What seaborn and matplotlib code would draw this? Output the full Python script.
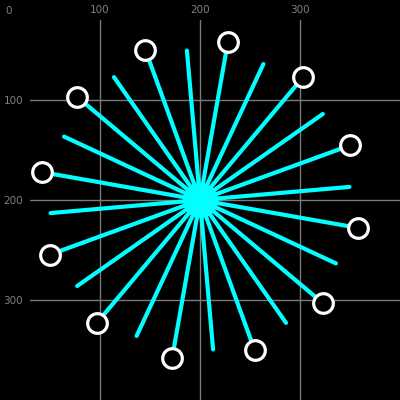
import numpy as np
import pandas as pd
import matplotlib
matplotlib.use('Agg')
import matplotlib.pyplot as plt
import seaborn as sns

# spokes: angle (deg, screen coords) and length
center_x, center_y = 200, 200
spoke_angles = [-95, -80, -65, -50, -35, -20, -5, 10, 25, 40, 55, 70,
                85, 100, 115, 130, 145, 160, 175, 190, 205, 220, 235, 250]
spoke_lengths = [150] * 24
has_ring = [False, True] * 12
ring_dist = 160

x_ticks = [100, 200, 300]
y_ticks = [100, 200, 300]
origin_label = '0'

rows = []
for i, (a, r) in enumerate(zip(spoke_angles, spoke_lengths)):
    t = np.deg2rad(a)
    rows.append({'spoke': i, 'x': center_x, 'y': center_y})
    rows.append({'spoke': i, 'x': center_x + r * np.cos(t), 'y': center_y + r * np.sin(t)})
df = pd.DataFrame(rows)

rings = pd.DataFrame({
    'x': [center_x + ring_dist * np.cos(np.deg2rad(a)) for a, h in zip(spoke_angles, has_ring) if h],
    'y': [center_y + ring_dist * np.sin(np.deg2rad(a)) for a, h in zip(spoke_angles, has_ring) if h],
})

sns.set_style('dark')
fig = plt.figure(figsize=(4, 4), dpi=100, facecolor='black')
# plot area starts at pixel (30, 20) so data units map 1:1 to pixels
ax = fig.add_axes([30 / 400, 0, 370 / 400, 380 / 400])
ax.set_facecolor('black')

ax.grid(True, color='#7a7a7a', linewidth=1)
ax.set_axisbelow(True)

sns.lineplot(data=df, x='x', y='y', units='spoke', estimator=None, sort=False,
             color='#00ffff', linewidth=3, ax=ax, legend=False)
sns.scatterplot(x=[center_x], y=[center_y], color='#00ffff', s=640, linewidth=0, ax=ax, zorder=3)
sns.scatterplot(data=rings, x='x', y='y', s=200, facecolor='black', edgecolor='white',
                linewidth=2.3, ax=ax, zorder=4)

ax.set_xlim(30, 400)
ax.set_ylim(400, 20)
ax.set_xticks(x_ticks)
ax.set_yticks(y_ticks)
ax.xaxis.tick_top()
ax.tick_params(axis='x', length=0, pad=3.5, labelsize=7.5, labelcolor='#808080')
ax.tick_params(axis='y', length=0, pad=5, labelsize=7.5, labelcolor='#808080')
ax.text(8.5, 10.5, origin_label, ha='center', va='center', fontsize=7.5,
        color='#808080', clip_on=False)
ax.set_xlabel('')
ax.set_ylabel('')
for s in ax.spines.values():
    s.set_visible(False)

fig.savefig('out.png', dpi=100, facecolor='black')
